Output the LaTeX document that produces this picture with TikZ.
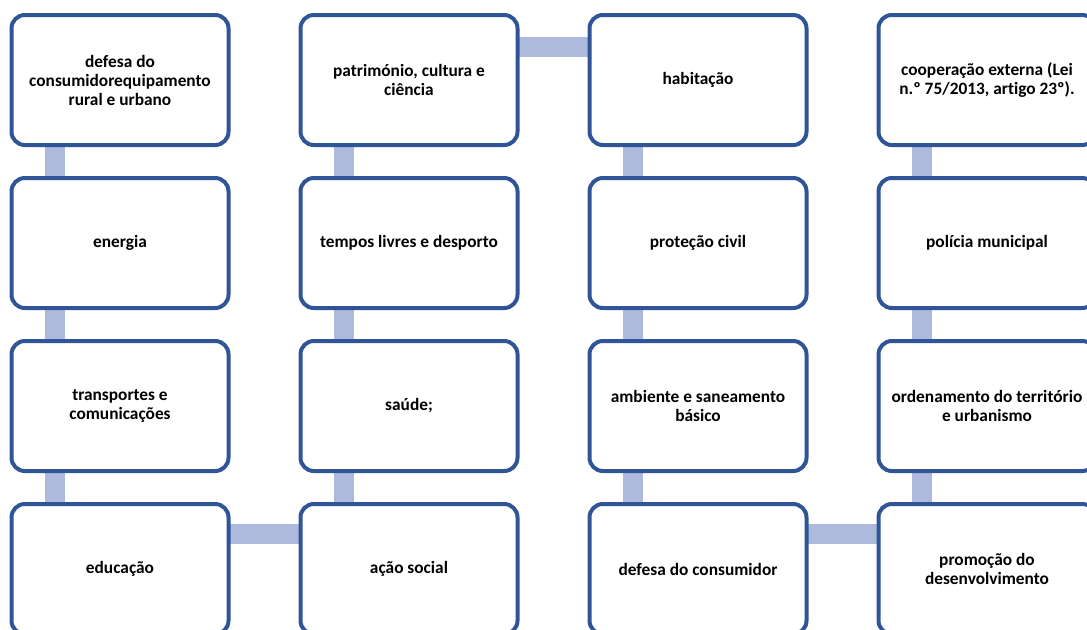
\documentclass[tikz,border=0pt]{standalone}
\usepackage{fontspec}
\setmainfont{Carlito}[Ligatures=NoCommon]
\usetikzlibrary{positioning,backgrounds}
\definecolor{boxBlue}{RGB}{47,85,151}
\definecolor{linkBlue}{RGB}{173,186,221}

\begin{document}
\begin{tikzpicture}[x=0.75pt, y=-0.75pt,
    box/.style={rectangle, draw=boxBlue, line width=3pt, fill=white, rounded corners=10pt,
      minimum width=162.75pt, minimum height=97.5pt, inner sep=0pt, outer sep=0pt, align=center,
      font=\bfseries\fontsize{13}{14.25}\selectfont},
    link/.style={draw=linkBlue, line width=15pt}]
        \useasboundingbox (0,0) rectangle (1087,629);

        \node[box] (equipNode) at (120, 80) {defesa do\\consumidorequipamento\\rural e urbano};
        \node[box] (energiaNode) [below = 24.75pt of equipNode] {energia};
        \node[box] (transpNode) [below = 24.75pt of energiaNode] {transportes e\\comunicações};
        \node[box] (educNode) [below = 24.75pt of transpNode] {educação};

        \node[box] (acaoNode) [right = 54pt of educNode] {ação social};
        \node[box] (saudeNode) [above = 24.75pt of acaoNode] {saúde;};
        \node[box] (temposNode) [above = 24.75pt of saudeNode] {tempos livres e desporto};
        \node[box] (patrimNode) [above = 24.75pt of temposNode] {património, cultura e\\ciência};

        \node[box] (habitNode) [right = 54pt of patrimNode] {habitação};
        \node[box] (protecNode) [below = 24.75pt of habitNode] {proteção civil};
        \node[box] (ambNode) [below = 24.75pt of protecNode] {ambiente e saneamento\\básico};
        \node[box] (consNode) [below = 24.75pt of ambNode] {defesa do consumidor};

        \node[box] (promoNode) [right = 54pt of consNode] {promoção do\\desenvolvimento};
        \node[box] (ordenNode) [above = 24.75pt of promoNode] {ordenamento do território\\e urbanismo};
        \node[box] (policiaNode) [above = 24.75pt of ordenNode] {polícia municipal};
        \node[box] (coopNode) [above = 24.75pt of policiaNode] {cooperação externa (Lei\\n.º 75/2013, artigo 23º).};

        \begin{pgfonlayer}{background}
        \draw[link] ([xshift=-49pt]equipNode.south) -- ([xshift=-49pt]energiaNode.north);
        \draw[link] ([xshift=-49pt]energiaNode.south) -- ([xshift=-49pt]transpNode.north);
        \draw[link] ([xshift=-49pt]transpNode.south) -- ([xshift=-49pt]educNode.north);
        \draw[link] ([yshift=26pt]educNode.east) -- ([yshift=26pt]acaoNode.west);
        \draw[link] ([xshift=-49pt]acaoNode.north) -- ([xshift=-49pt]saudeNode.south);
        \draw[link] ([xshift=-49pt]saudeNode.north) -- ([xshift=-49pt]temposNode.south);
        \draw[link] ([xshift=-49pt]temposNode.north) -- ([xshift=-49pt]patrimNode.south);
        \draw[link] ([yshift=25pt]patrimNode.east) -- ([yshift=25pt]habitNode.west);
        \draw[link] ([xshift=-49pt]habitNode.south) -- ([xshift=-49pt]protecNode.north);
        \draw[link] ([xshift=-49pt]protecNode.south) -- ([xshift=-49pt]ambNode.north);
        \draw[link] ([xshift=-49pt]ambNode.south) -- ([xshift=-49pt]consNode.north);
        \draw[link] ([yshift=26pt]consNode.east) -- ([yshift=26pt]promoNode.west);
        \draw[link] ([xshift=-49pt]promoNode.north) -- ([xshift=-49pt]ordenNode.south);
        \draw[link] ([xshift=-49pt]ordenNode.north) -- ([xshift=-49pt]policiaNode.south);
        \draw[link] ([xshift=-49pt]policiaNode.north) -- ([xshift=-49pt]coopNode.south);
        \end{pgfonlayer}
      \end{tikzpicture}
\end{document}
